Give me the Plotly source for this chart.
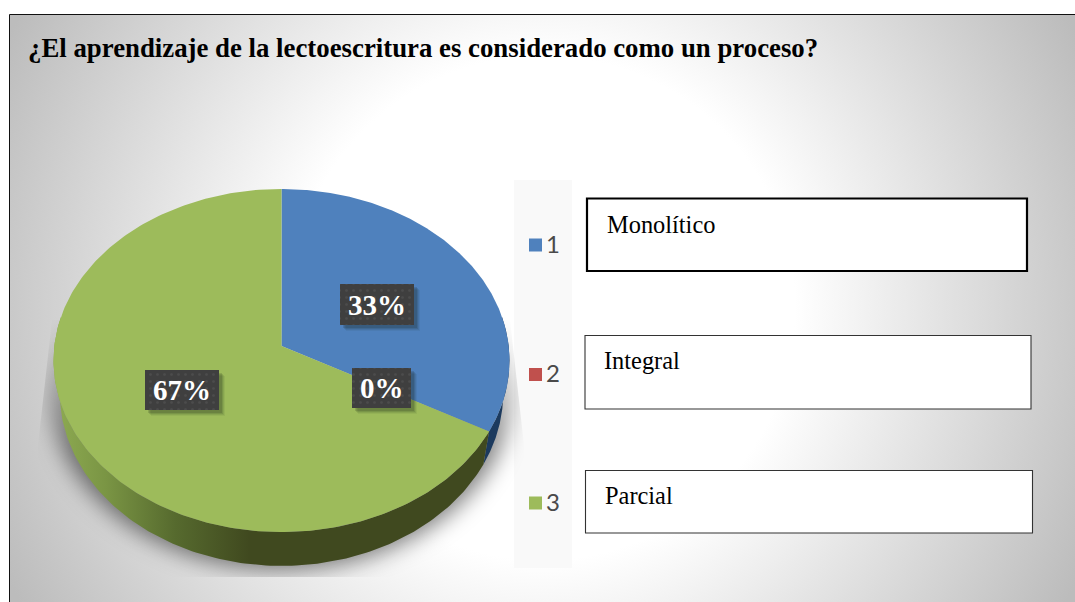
import base64
import numpy as np
import plotly.graph_objects as go

# --- data ---
title_text = "¿El aprendizaje de la lectoescritura es considerado como un proceso?"
categories = ["1", "2", "3"]
values = [33, 0, 67]
percent_labels = ["33%", "0%", "67%"]
box_texts = ["Monolítico", "Integral", "Parcial"]

# --- style / placement ---
W, H = 1075, 602
TOP_COLORS = ["#4f81bd", "#c0504d", "#9dbb5b"]
SIDE_COLORS = ["#1c3a5e", "#7a2f2d", "#40491f"]
K = 0.0846
CX = 281.5
TOP = dict(ax=227.2, ay=170.3, y0=346.0)
BOT = dict(ax=221.0, ay=172.0, y0=378.0)
LABEL_BOXES = [(340, 284, 414, 325), (352, 368, 411, 408), (145, 370, 219, 410)]
TEXT_BOXES = [(587, 198.5, 1027, 271, 2.2, "#000000"),
              (585, 335.5, 1031, 409, 1.1, "#333333"),
              (585.5, 470.5, 1032.5, 533, 1.1, "#333333")]
BOX_TEXT_POS = [(605, 224), (602, 360), (603, 495)]
LEGEND_X = 535.5
LEGEND_TEXT_X = 544
LEGEND_Y = [245, 374.5, 503]
LEGEND_TEXT_DY = -2


def project(theta_deg, g):
    t = np.radians(theta_deg)
    w = 1 + K * np.cos(t)
    return CX + g["ax"] * np.sin(t) / w, g["y0"] - g["ay"] * np.cos(t) / w


# Background image: radial gradient, legend panel and blurred pie shadow
svg = f'''<svg xmlns="http://www.w3.org/2000/svg" width="{W}" height="{H}" viewBox="0 0 {W} {H}">
<defs>
<radialGradient id="g" gradientUnits="userSpaceOnUse" cx="543" cy="308" r="600">
<stop offset="0" stop-color="#ffffff"/><stop offset="0.42" stop-color="#ffffff"/><stop offset="1" stop-color="#bcbcbc"/>
</radialGradient>
<linearGradient id="s" gradientUnits="userSpaceOnUse" x1="0" y1="310" x2="0" y2="450">
<stop offset="0" stop-color="#000000" stop-opacity="0"/><stop offset="1" stop-color="#000000" stop-opacity="0.5"/>
</linearGradient>
<filter id="b" x="-20%" y="-20%" width="140%" height="140%"><feGaussianBlur stdDeviation="11"/></filter>
<clipPath id="c"><polygon points="52,320 38,445 38,577 524,577 524,445 510,320"/></clipPath>
</defs>
<rect width="{W}" height="{H}" fill="#ffffff"/>
<rect x="10" y="15" width="{W-10}" height="{H-15}" fill="url(#g)"/>
<rect x="514" y="180" width="58" height="388" fill="#f9f9f9"/>
<g clip-path="url(#c)"><ellipse cx="281" cy="388" rx="232" ry="182" fill="url(#s)" filter="url(#b)"/></g>
</svg>'''
bg_uri = "data:image/svg+xml;base64," + base64.b64encode(svg.encode()).decode()

fig = go.Figure()

shares = np.array(values, dtype=float) / sum(values) * 360
starts = np.concatenate([[0], np.cumsum(shares)[:-1]])
ends = starts + shares

# Side walls
for name, a, b, col in zip(categories, starts, ends, SIDE_COLORS):
    lo, hi = max(a, 80), min(b, 280)
    if hi <= lo:
        continue
    th = np.linspace(lo, hi, 160)
    xt, yt = project(th, TOP)
    xb, yb = project(th[::-1], BOT)
    kw = dict(fillcolor=col)
    if name == "3":
        kw = dict(fillgradient=dict(type="horizontal", colorscale=[
            [0.0, "#8eab52"], [0.12, "#7a9544"], [0.28, "#566a2e"],
            [0.45, "#40491f"], [1.0, "#40491f"]]))
    fig.add_trace(go.Scatter(x=np.r_[xt, xb], y=np.r_[yt, yb], mode="lines", fill="toself",
                             line=dict(width=0), hoverinfo="skip", showlegend=False, **kw))

# Top faces
for name, a, b, col in zip(categories, starts, ends, TOP_COLORS):
    if b <= a:
        continue
    th = np.linspace(a, b, 240)
    xt, yt = project(th, TOP)
    fig.add_trace(go.Scatter(x=np.r_[CX, xt, CX], y=np.r_[TOP["y0"], yt, TOP["y0"]], mode="lines",
                             fill="toself", fillcolor=col, line=dict(width=0), name=name,
                             hoverinfo="skip", showlegend=False))

# Legend
fig.add_trace(go.Scatter(x=[LEGEND_X] * 3, y=LEGEND_Y, mode="markers",
                         marker=dict(symbol="square", size=13, color=TOP_COLORS),
                         hoverinfo="skip", showlegend=False))
for cat, ly in zip(categories, LEGEND_Y):
    fig.add_annotation(x=LEGEND_TEXT_X, y=ly + LEGEND_TEXT_DY, text=cat, showarrow=False,
                       xanchor="left", yanchor="middle",
                       font=dict(family="Lato", size=24, color="#4a4a4a"))

# Data-label boxes: soft shadow + dotted dark box + text
for (x0, y0, x1, y1), lab in zip(LABEL_BOXES, percent_labels):
    for off, op in ((6, 0.06), (5, 0.09), (4, 0.12), (3, 0.15)):
        fig.add_trace(go.Scatter(x=[x0 + off, x1 + off, x1 + off, x0 + off, x0 + off],
                                 y=[y0 + off, y0 + off, y1 + off, y1 + off, y0 + off],
                                 mode="lines", fill="toself", fillcolor=f"rgba(20,30,20,{op})",
                                 line=dict(width=0), hoverinfo="skip", showlegend=False))
for (x0, y0, x1, y1), lab in zip(LABEL_BOXES, percent_labels):
    fig.add_trace(go.Scatter(x=[x0, x1, x1, x0, x0], y=[y0, y0, y1, y1, y0], mode="lines", fill="toself",
                             fillcolor="#3f3f3f", line=dict(width=0), hoverinfo="skip", showlegend=False,
                             fillpattern=dict(shape=".", fgcolor="#595959", bgcolor="#3f3f3f",
                                              size=7, solidity=0.12)))
    fig.add_annotation(x=(x0 + x1) / 2, y=(y0 + y1) / 2, text=f"<b>{lab}</b>", showarrow=False,
                       font=dict(family="Liberation Serif", size=29, color="#ffffff"),
                       xanchor="center", yanchor="middle")

# White text boxes
for (x0, y0, x1, y1, lw, lc), txt, (tx, ty) in zip(TEXT_BOXES, box_texts, BOX_TEXT_POS):
    fig.add_shape(type="rect", x0=x0, x1=x1, y0=y0, y1=y1, fillcolor="#ffffff",
                  line=dict(color=lc, width=lw), layer="below")
    fig.add_annotation(x=tx, y=ty, text=txt, showarrow=False, xanchor="left", yanchor="middle",
                       font=dict(family="Liberation Serif", size=24.4, color="#000000"))

# Title
fig.add_annotation(x=26, y=48, text=f"<b>{title_text}</b>", showarrow=False, xanchor="left", yanchor="middle",
                   font=dict(family="Liberation Serif", size=26.8, color="#000000"))

# Frame edges
fig.add_shape(type="line", x0=9.5, x1=9.5, y0=14.5, y1=H, line=dict(color="#111111", width=1))
fig.add_shape(type="line", x0=9.5, x1=W, y0=14.5, y1=14.5, line=dict(color="#111111", width=1))

fig.update_layout(
    width=W, height=H, margin=dict(l=0, r=0, t=0, b=0),
    paper_bgcolor="#ffffff", plot_bgcolor="rgba(0,0,0,0)", showlegend=False,
    xaxis=dict(range=[0, W], visible=False, fixedrange=True),
    yaxis=dict(range=[H, 0], visible=False, fixedrange=True),
    images=[dict(source=bg_uri, xref="paper", yref="paper", x=0, y=1, sizex=1, sizey=1,
                 xanchor="left", yanchor="top", sizing="stretch", layer="below")],
)
fig.write_html("out.html", config={"displayModeBar": False},
               post_script="document.body.style.margin='0';document.body.style.overflow='hidden';")
